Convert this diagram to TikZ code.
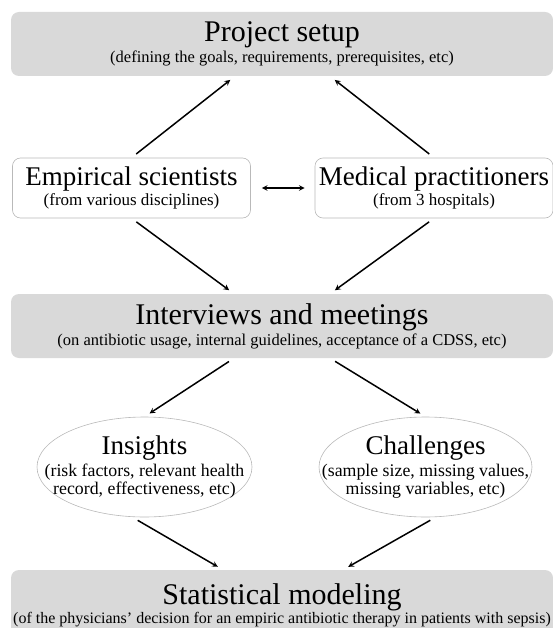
\documentclass[tikz,border=0pt]{standalone}
\usepackage{fontspec}
\setmainfont{Liberation Serif}
\usetikzlibrary{shapes.geometric}

\definecolor{boxgray}{RGB}{217,217,217}
\definecolor{linegray}{RGB}{185,185,185}

\newcommand{\bigtitle}{\fontsize{30}{30}\selectfont}
\newcommand{\midtitle}{\fontsize{27}{27}\selectfont}
\newcommand{\subtext}{\fontsize{16.5}{19}\selectfont}
\newcommand{\ovaltext}{\fontsize{17.8}{20}\selectfont}

\begin{document}
\begin{tikzpicture}[x=1pt, y=-1pt,
    stagebox/.style={rectangle, rounded corners=8pt, fill=boxgray, minimum width=542pt, minimum height=64pt, align=center, inner sep=0pt},
    groupbox/.style={rectangle, rounded corners=8pt, draw=linegray, line width=0.6pt, fill=white, minimum width=238pt, minimum height=60pt, align=center, inner sep=0pt},
    topicoval/.style={ellipse, draw=linegray, line width=0.6pt, minimum height=100pt, align=center, inner xsep=-30pt, inner ysep=-12pt},
    flow/.style={->, >=stealth, line width=1.5pt, shorten <=6pt, shorten >=6pt}]
    \useasboundingbox (0,0) rectangle (552,628);

    \node[stagebox] (proj) at (282,44) {{\bigtitle Project setup}\\[2pt]{\subtext (defining the goals, requirements, prerequisites, etc)}};
    \node[groupbox] (emp) at (131.5,188) {{\midtitle Empirical scientists}\\[2pt]{\fontsize{17}{19}\selectfont (from various disciplines)}};
    \node[groupbox] (med) at (434,188) {{\midtitle Medical practitioners}\\[2pt]{\fontsize{17}{19}\selectfont (from 3 hospitals)}};
    \node[stagebox] (int) at (282,326) {{\bigtitle Interviews and meetings}\\[2pt]{\subtext (on antibiotic usage, internal guidelines, acceptance of a CDSS, etc)}};
    \node[topicoval, minimum width=215pt] (ins) at (144.5,467) {{\midtitle Insights}\\[3pt]{\ovaltext (risk factors, relevant health}\\{\ovaltext record, effectiveness, etc)}};
    \node[topicoval, minimum width=213pt] (cha) at (425.5,467) {{\midtitle Challenges}\\[3pt]{\ovaltext (sample size, missing values,}\\{\ovaltext missing variables, etc)}};
    \node[stagebox, minimum height=70pt] (stat) at (282,605) {{\bigtitle Statistical modeling}\\[0pt]{\fontsize{16}{18}\selectfont (of the physicians’ decision for an empiric antibiotic therapy in patients with sepsis)}};

    \draw[flow] (emp.north) -- ([xshift=-47pt]proj.south);
    \draw[flow] (med.north) -- ([xshift=48pt]proj.south);
    \draw[flow, shorten <=11pt, shorten >=10pt, <->] (emp.east) -- (med.west);
    \draw[flow] (emp.south) -- ([xshift=-48pt]int.north);
    \draw[flow] (med.south) -- ([xshift=48pt]int.north);
    \draw[flow] ([xshift=-48pt]int.south) -- (ins.north);
    \draw[flow] ([xshift=48pt]int.south) -- (cha.north);
    \draw[flow] ([xshift=-12pt]ins.south) -- ([xshift=-59pt]stat.north);
    \draw[flow] ([xshift=10pt]cha.south) -- ([xshift=61pt]stat.north);
\end{tikzpicture}
\end{document}
